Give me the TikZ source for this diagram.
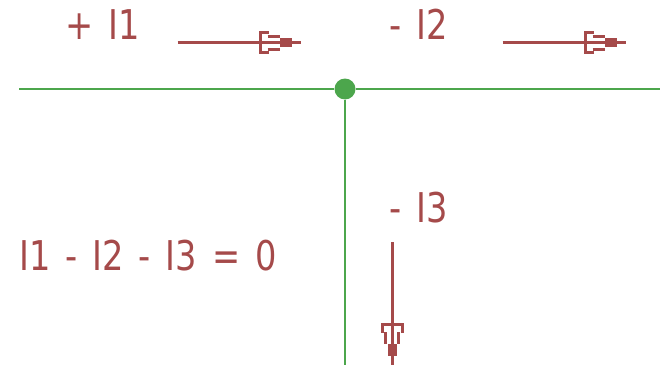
\documentclass[tikz,border=0pt]{standalone}
\usepackage{fontspec}
\setmainfont{DejaVu Sans}
\newfontfamily\lblfont[WordSpace=1.4]{DejaVu Sans}
\definecolor{redc}{RGB}{165,74,74}
\definecolor{greenc}{RGB}{76,166,76}
\tikzset{
  plug/.pic={
    \draw[redc, line width=3pt] (-81,0) -- (42,0);
    \draw[redc, line width=3pt] (10,10) -- (1.5,10) -- (1.5,-10) -- (10,-10);
    \draw[redc, line width=2.5pt] (9,6.5) -- (21,6.5) (9,-6.5) -- (21,-6.5);
    \fill[redc] (21,-4.5) rectangle (33,4.5);
  },
  lbl/.style={text=redc, font=\lblfont\fontsize{41}{41}\selectfont, anchor=base west, inner sep=0pt},
  wire/.style={greenc, line width=2.2pt}
}
\begin{document}
\begin{tikzpicture}[x=1pt,y=1pt]
\useasboundingbox (0,0) rectangle (660,365);
% green wires
\coordinate (wl) at (19,276);
\coordinate (wr) at (660,276);
\coordinate (wb) at (345,0);
\node[circle, fill=greenc, minimum size=21pt, inner sep=0pt] (j) at (345,276) {};
\draw[wire] (wl) -- (j) -- (wr);
\draw[wire] (j) -- (wb);
% current arrows
\pic at (258.5,322) {plug};
\pic at (583.5,322) {plug};
\pic[rotate=-90] at (392,42) {plug};
% labels
\node[lbl] (t1) at (65,325) {\scalebox{0.82}[1]{+ I1}};
\node[lbl] (t2) at (389.5,325) {\scalebox{0.82}[1]{- I2}};
\node[lbl] (t3) at (389.5,143) {\scalebox{0.82}[1]{- I3}};
\node[lbl] (eq) at (19,95) {\scalebox{0.82}[1]{I1 - I2 - I3 = 0}};
\end{tikzpicture}
\end{document}
